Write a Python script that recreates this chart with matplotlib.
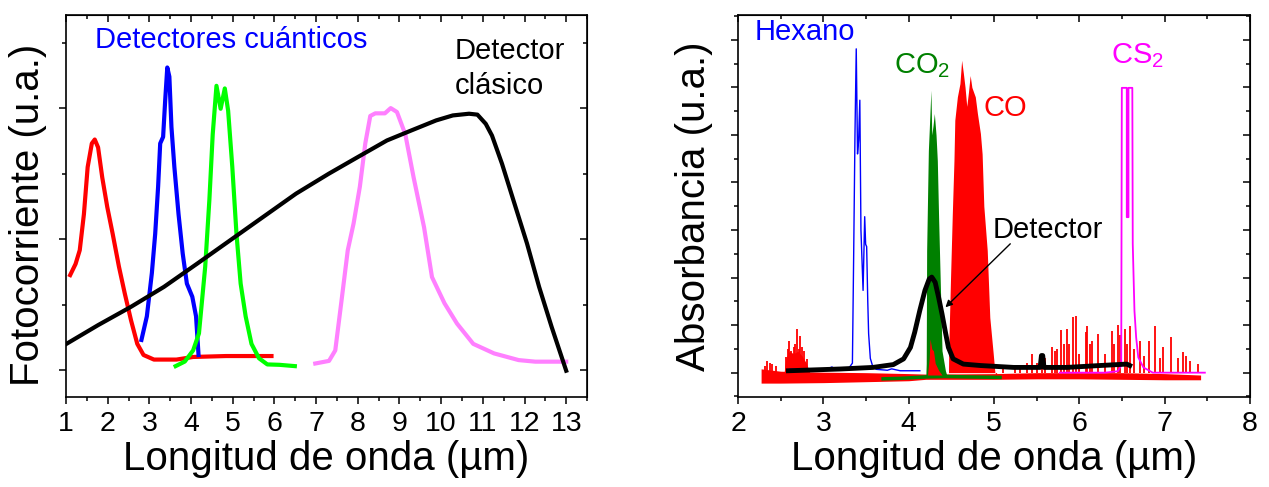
import matplotlib
matplotlib.use("Agg")
import matplotlib.pyplot as plt
from matplotlib.ticker import MultipleLocator

plt.rcParams['font.family'] = ['Liberation Sans', 'DejaVu Sans']
plt.rcParams['mathtext.fontset'] = 'custom'
plt.rcParams['mathtext.rm'] = 'Liberation Sans'
plt.rcParams['mathtext.it'] = 'Liberation Sans'

# ---- left panel: photocurrent of the detectors ----
red_x = [1.1, 1.23, 1.33, 1.43, 1.52, 1.62, 1.69, 1.77, 1.87, 1.99, 2.12, 2.27, 2.41,
         2.56, 2.71, 2.86, 3.11, 3.65, 4.05, 4.84, 5.93]
red_y = [0.725, 0.81, 0.915, 1.19, 1.55, 1.73, 1.76, 1.70, 1.47, 1.245, 1.04, 0.79, 0.585,
         0.38, 0.20, 0.115, 0.08, 0.08, 0.10, 0.107, 0.107]

blue_x = [2.81, 2.94, 3.06, 3.14, 3.21, 3.26, 3.33, 3.38, 3.43, 3.48, 3.53, 3.60, 3.70,
          3.80, 3.90, 4.03, 4.12, 4.18]
blue_y = [0.23, 0.41, 0.74, 1.04, 1.40, 1.73, 1.78, 2.06, 2.31, 2.24, 1.855, 1.55, 1.19,
          0.89, 0.66, 0.56, 0.41, 0.115]

green_x = [3.63, 3.85, 4.05, 4.19, 4.34, 4.44, 4.52, 4.61, 4.71, 4.81, 4.89, 4.99, 5.09,
           5.19, 5.31, 5.45, 5.63, 5.83, 6.12, 6.49]
green_y = [0.03, 0.065, 0.15, 0.28, 0.79, 1.30, 1.80, 2.17, 1.995, 2.15, 1.98, 1.55, 1.04,
           0.66, 0.41, 0.20, 0.09, 0.043, 0.04, 0.03]

violet_x = [6.98, 7.31, 7.46, 7.61, 7.76, 7.90, 8.05, 8.18, 8.30, 8.42, 8.65, 8.79, 8.94,
            9.14, 9.34, 9.59, 9.78, 10.08, 10.38, 10.77, 11.27, 11.86, 12.26, 13.0]
violet_y = [0.05, 0.07, 0.15, 0.53, 0.915, 1.12, 1.40, 1.73, 1.94, 1.96, 1.96, 2.0, 1.97,
            1.80, 1.47, 1.09, 0.71, 0.51, 0.355, 0.20, 0.127, 0.076, 0.064, 0.064]

clasico_x = [1.0, 1.77, 2.56, 3.35, 4.15, 4.94, 5.73, 6.52, 7.31, 8.0, 8.70, 9.29, 9.88,
             10.28, 10.67, 10.87, 11.07, 11.22, 11.46, 11.76, 12.06, 12.35, 12.65, 13.0]
clasico_y = [0.198, 0.343, 0.483, 0.635, 0.813, 0.991, 1.169, 1.347, 1.50, 1.626, 1.753,
             1.83, 1.906, 1.944, 1.957, 1.95, 1.88, 1.79, 1.575, 1.27, 0.966, 0.635, 0.33, -0.005]

# ---- right panel: gas absorbance ----
hex_x = [2.60, 2.95, 3.05, 3.10, 3.13, 3.20, 3.30, 3.34, 3.355, 3.37, 3.385, 3.40, 3.413,
         3.427, 3.44, 3.465, 3.484, 3.495, 3.507, 3.52, 3.53, 3.55, 3.58, 3.62, 3.75, 3.80,
         3.90, 4.13]
hex_y = [0.07, 0.07, 0.08, 0.12, 0.08, 0.07, 0.10, 0.20, 2.5, 5.0, 6.81, 4.6, 4.89, 5.73,
         3.0, 1.73, 3.28, 2.7, 2.65, 1.5, 0.82, 0.30, 0.12, 0.07, 0.05, 0.08, 0.04, 0.04]

co2_x = [4.20, 4.205, 4.21, 4.23, 4.245, 4.26, 4.27, 4.285, 4.30, 4.32, 4.335, 4.35, 4.37,
         4.39, 4.43, 4.45]
co2_y = [-0.1, 0.19, 2.57, 4.67, 5.3, 5.94, 5.0, 5.2, 5.45, 5.0, 4.46, 3.27, 1.87, 0.46,
         0.04, -0.08]
co2_base_x = [3.70, 3.9, 4.1, 4.20, 4.43, 4.7, 5.07]
co2_base_y = [-0.13, -0.12, -0.10, -0.09, -0.08, -0.09, -0.10]

co_x = [4.465, 4.47, 4.49, 4.51, 4.53, 4.54, 4.57, 4.60, 4.62, 4.64, 4.66, 4.68, 4.70,
        4.72, 4.74, 4.78, 4.805, 4.84, 4.86, 4.88, 4.92, 4.95, 4.99, 5.01, 5.03]
co_y = [-0.1, 0.6, 2.0, 3.3, 4.46, 5.31, 5.80, 6.08, 6.57, 6.3, 6.0, 5.6, 5.9, 6.25, 6.0,
        5.8, 5.45, 5.03, 4.6, 3.5, 2.57, 1.16, 0.4, 0.0, -0.1]
co_bump_x = [4.22, 4.24, 4.25, 4.27, 4.29, 4.31, 4.35, 4.39]
co_bump_y = [-0.05, 0.3, 0.71, 0.5, 0.46, 0.2, 0.05, -0.05]
noise_x = [2.27, 2.5, 3.0, 3.5, 4.0, 4.2, 5.0, 5.5, 6.0, 6.5, 7.0, 7.42]
noise_hi = [0.08, 0.03, 0.01, 0.0, -0.02, -0.03, -0.02, 0.0, 0.0, 0.0, -0.02, -0.05]
noise_lo = [-0.22, -0.22, -0.21, -0.19, -0.17, -0.14, -0.14, -0.13, -0.13, -0.14, -0.15, -0.15]
cluster_x = [2.54, 2.56, 2.60, 2.65, 2.70, 2.75, 2.80, 2.84]
cluster_y = [0.0, 0.3, 0.45, 0.4, 0.45, 0.35, 0.2, 0.0]
spike_x = [2.31, 2.34, 2.37, 2.40, 2.45, 2.56, 2.58, 2.60, 2.62, 2.65, 2.67, 2.69, 2.71,
           2.73, 2.75, 2.77, 2.81,
           5.10, 5.24, 5.30, 5.38, 5.45, 5.50, 5.56, 5.60, 5.68, 5.71, 5.735, 5.79, 5.82,
           5.85, 5.88, 5.92, 5.96, 6.0, 6.08, 6.09, 6.12, 6.15, 6.215, 6.30, 6.38, 6.41,
           6.45, 6.48, 6.535, 6.56, 6.59, 6.64, 6.71, 6.76, 6.82, 6.89, 6.94, 6.98, 7.07,
           7.15, 7.21, 7.25, 7.30, 7.39]
spike_y = [0.15, 0.25, 0.2, 0.18, 0.15, 0.32, 0.5, 0.67, 0.45, 0.53, 0.6, 0.92, 0.5,
           0.78, 0.55, 0.46, 0.29,
           0.12, 0.11, 0.15, 0.2, 0.39, 0.2, 0.25, 0.3, 0.53, 0.45, 0.50, 0.905, 0.6,
           0.92, 0.6, 1.165, 1.2, 0.39, 0.85, 0.99, 0.6, 0.67, 0.81, 0.4, 0.87, 0.6,
           1.01, 0.8, 0.92, 0.6, 0.99, 0.5, 0.67, 0.35, 0.67, 0.99, 0.3, 0.53, 0.74,
           0.3, 0.43, 0.35, 0.25, 0.18]

cs2_x = [5.77, 6.3, 6.45, 6.49, 6.497, 6.555, 6.555, 6.575, 6.575, 6.62, 6.625, 6.635,
         6.645, 6.665, 6.69, 6.75, 6.86, 7.47]
cs2_y = [0.0, 0.0, 0.03, 0.15, 5.99, 5.99, 3.27, 3.27, 5.99, 5.99, 2.71, 2.0, 1.3, 0.74,
         0.32, 0.11, 0.0, 0.0]

det_x = [2.59, 3.2, 3.58, 3.82, 3.94, 4.02, 4.07, 4.13, 4.19, 4.24, 4.27, 4.31, 4.35,
         4.39, 4.43, 4.465, 4.52, 4.64, 4.84, 5.23, 5.54, 5.555, 5.57, 5.585, 5.85, 6.24,
         6.555, 6.59]
det_y = [0.04, 0.077, 0.11, 0.17, 0.29, 0.53, 0.85, 1.31, 1.73, 1.97, 2.01, 1.90, 1.585,
         1.235, 0.85, 0.53, 0.29, 0.18, 0.15, 0.11, 0.11, 0.36, 0.36, 0.11, 0.11, 0.15,
         0.18, 0.15]

fig = plt.figure(figsize=(12.69, 4.87), dpi=100)
ax1 = fig.add_axes([0.052, 0.185, 0.4106, 0.784])
ax2 = fig.add_axes([0.5816, 0.185, 0.4035, 0.784])

ax1.plot(red_x, red_y, color='#ff0000', lw=3)
ax1.plot(blue_x, blue_y, color='#0000ff', lw=3)
ax1.plot(green_x, green_y, color='#00ff00', lw=3)
ax1.plot(violet_x, violet_y, color='#ff80ff', lw=3)
ax1.plot(clasico_x, clasico_y, color='black', lw=3)
ax1.text(1.70, 2.52, 'Detectores cuánticos', color='#0000ff', fontsize=21, va='center')
ax1.text(10.33, 2.30, 'Detector\nclásico', color='black', fontsize=21, va='center',
         linespacing=1.3)
ax1.set_xlim(1, 13.5)
ax1.set_ylim(-0.205, 2.71)
ax1.xaxis.set_major_locator(MultipleLocator(1))
ax1.xaxis.set_minor_locator(MultipleLocator(0.5))
ax1.yaxis.set_major_locator(MultipleLocator(1))
ax1.yaxis.set_minor_locator(MultipleLocator(0.5))
ax1.set_yticklabels([])
ax1.set_xlabel('Longitud de onda (µm)', fontsize=29, labelpad=2)
ax1.set_ylabel('Fotocorriente (u.a.)', fontsize=29, labelpad=4)
ax1.yaxis.label.set_y(0.476)

ax2.fill_between(noise_x, noise_lo, noise_hi, color='#ff0000', lw=0, zorder=2)
ax2.fill_between(cluster_x, 0, cluster_y, color='#ff0000', lw=0, zorder=2)
ax2.vlines(spike_x, 0, spike_y, color='#ff0000', lw=1.3, zorder=2)
ax2.fill_between(co_x, 0, co_y, color='#ff0000', lw=0, zorder=2)
ax2.fill_between(co2_x, -0.1, co2_y, color='#008000', lw=0, zorder=3)
ax2.plot(co2_base_x, co2_base_y, color='#008000', lw=2.5, zorder=3)
ax2.fill_between(co_bump_x, -0.05, co_bump_y, color='#ff0000', lw=0, zorder=3.5)
ax2.plot(hex_x, hex_y, color='#0000ff', lw=1, zorder=4)
ax2.plot(cs2_x, cs2_y, color='#ff00ff', lw=1.3, zorder=4)
ax2.plot(det_x, det_y, color='black', lw=3.5, zorder=5)
ax2.annotate('', xy=(4.43, 1.375), xytext=(5.19, 2.71),
             arrowprops=dict(arrowstyle='-|>', color='black', lw=1, mutation_scale=10,
                             shrinkA=0, shrinkB=0), zorder=6)
ax2.text(4.98, 3.01, 'Detector', fontsize=21, va='center')
ax2.text(2.19, 7.16, 'Hexano', color='#0000ff', fontsize=21, va='center')
ax2.text(3.83, 6.46, 'CO$_2$', color='#008000', fontsize=21, va='center')
ax2.text(4.88, 5.56, 'CO', color='#ff0000', fontsize=21, va='center')
ax2.text(6.37, 6.67, 'CS$_2$', color='#ff00ff', fontsize=21, va='center')
ax2.set_xlim(2, 8)
ax2.set_ylim(-0.51, 7.52)
ax2.xaxis.set_major_locator(MultipleLocator(1))
ax2.xaxis.set_minor_locator(MultipleLocator(0.5))
ax2.yaxis.set_major_locator(MultipleLocator(1))
ax2.yaxis.set_minor_locator(MultipleLocator(0.5))
ax2.set_yticklabels([])
ax2.set_xlabel('Longitud de onda (µm)', fontsize=29, labelpad=2)
ax2.set_ylabel('Absorbancia (u.a.)', fontsize=29, labelpad=8)

for ax in (ax1, ax2):
    for s in ax.spines.values():
        s.set_linewidth(1.2)
    ax.tick_params(which='both', direction='out', width=1.1, labelsize=20.5, pad=5,
                   top=False, right=False)
    ax.tick_params(which='major', length=5)
    ax.tick_params(which='minor', length=3)
    sec_x = ax.secondary_xaxis('top')
    sec_y = ax.secondary_yaxis('right')
    for sec in (sec_x, sec_y):
        sec.tick_params(which='both', direction='in', width=1.1, labelsize=0)
        sec.tick_params(which='major', length=5)
        sec.tick_params(which='minor', length=3)
    sec_x.xaxis.set_major_locator(MultipleLocator(1))
    sec_x.xaxis.set_minor_locator(MultipleLocator(0.5))
    sec_y.yaxis.set_major_locator(MultipleLocator(1))
    sec_y.yaxis.set_minor_locator(MultipleLocator(0.5))
    sec_x.set_xticklabels([])
    sec_y.set_yticklabels([])

fig.savefig('out.png', dpi=100)
